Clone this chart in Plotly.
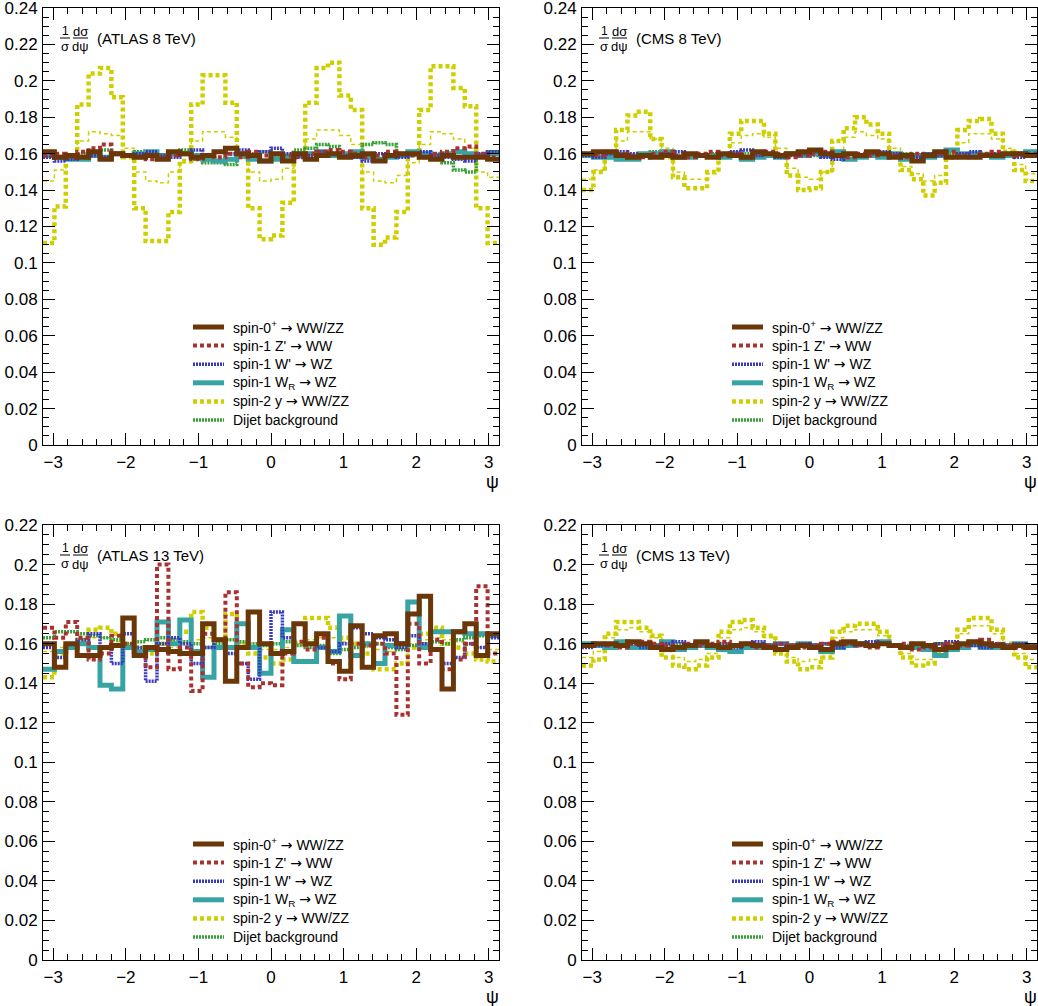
import numpy as np
import plotly.graph_objects as go

W, H = 1038, 1006
NB = 40
edges = np.linspace(-np.pi, np.pi, NB + 1)

ARROW = "<span style='font-family:DejaVu Sans'>\u2192</span>"
labels = ["spin-0<sup>+</sup> " + ARROW + " WW/ZZ", "spin-1 Z' " + ARROW + " WW", "spin-1 W' " + ARROW + " WZ",
          "spin-1 W<sub>R</sub> " + ARROW + " WZ", "spin-2 y " + ARROW + " WW/ZZ", "Dijet background"]
panel_titles = ["(ATLAS 8 TeV)", "(CMS 8 TeV)", "(ATLAS 13 TeV)", "(CMS 13 TeV)"]

# ---------------- ATLAS 8 TeV ----------------
a8_spin0 = [0.161,0.158,0.159,0.158,0.161,0.157,0.160,0.159,0.158,0.159,0.157,0.161,0.160,0.158,0.159,0.161,0.163,0.160,0.159,0.156,
            0.160,0.156,0.160,0.157,0.159,0.160,0.158,0.159,0.160,0.156,0.159,0.160,0.160,0.158,0.157,0.159,0.158,0.158,0.158,0.157]
a8_zp = [0.159,0.160,0.158,0.161,0.163,0.165,0.160,0.159,0.158,0.157,0.158,0.159,0.160,0.157,0.159,0.158,0.160,0.158,0.161,0.159,
         0.160,0.159,0.158,0.160,0.161,0.162,0.161,0.160,0.158,0.159,0.161,0.160,0.159,0.158,0.160,0.161,0.163,0.164,0.160,0.158]
a8_wp = [0.158,0.156,0.157,0.158,0.159,0.158,0.160,0.159,0.160,0.161,0.159,0.158,0.160,0.162,0.159,0.161,0.160,0.162,0.159,0.161,
         0.163,0.160,0.158,0.159,0.161,0.160,0.159,0.158,0.156,0.160,0.159,0.158,0.160,0.161,0.159,0.158,0.157,0.156,0.160,0.161]
a8_wr = [0.159,0.158,0.157,0.157,0.159,0.158,0.160,0.159,0.160,0.161,0.159,0.160,0.160,0.159,0.157,0.156,0.157,0.159,0.157,0.156,
         0.157,0.158,0.159,0.160,0.161,0.159,0.160,0.161,0.158,0.157,0.158,0.159,0.161,0.160,0.159,0.160,0.161,0.160,0.159,0.160]
a8_spin2 = [0.111,0.131,0.158,0.187,0.204,0.207,0.191,0.158,0.130,0.112,0.112,0.128,0.156,0.187,0.203,0.203,0.188,0.160,0.130,0.113,
            0.115,0.133,0.160,0.188,0.207,0.210,0.192,0.184,0.130,0.110,0.114,0.128,0.160,0.184,0.208,0.208,0.196,0.186,0.130,0.111]
a8_spin2b = [0.145,0.151,0.160,0.167,0.172,0.171,0.170,0.163,0.150,0.145,0.144,0.150,0.155,0.167,0.172,0.172,0.169,0.160,0.150,0.145,
             0.146,0.152,0.160,0.168,0.173,0.173,0.170,0.165,0.150,0.145,0.144,0.148,0.155,0.165,0.172,0.171,0.168,0.163,0.150,0.147]
a8_dijet = [0.160,0.158,0.159,0.160,0.161,0.162,0.160,0.159,0.161,0.160,0.158,0.161,0.162,0.157,0.155,0.155,0.154,0.158,0.160,0.161,
            0.158,0.159,0.162,0.163,0.165,0.164,0.160,0.158,0.165,0.166,0.165,0.160,0.159,0.158,0.160,0.155,0.151,0.150,0.158,0.161]

# ---------------- CMS 8 TeV ----------------
c8_spin0 = [0.160,0.161,0.161,0.159,0.158,0.159,0.158,0.159,0.158,0.160,0.159,0.158,0.160,0.159,0.158,0.161,0.160,0.159,0.160,0.161,
            0.162,0.160,0.159,0.160,0.159,0.161,0.160,0.158,0.159,0.156,0.159,0.161,0.158,0.158,0.158,0.159,0.159,0.160,0.160,0.159]
c8_zp = [0.160,0.159,0.161,0.160,0.159,0.158,0.160,0.161,0.159,0.158,0.160,0.161,0.159,0.160,0.158,0.160,0.161,0.160,0.158,0.159,
         0.160,0.161,0.159,0.158,0.160,0.159,0.160,0.159,0.158,0.160,0.159,0.160,0.161,0.159,0.158,0.160,0.161,0.160,0.159,0.160]
c8_wp = [0.159,0.158,0.160,0.161,0.160,0.159,0.158,0.160,0.161,0.160,0.159,0.158,0.160,0.161,0.162,0.159,0.160,0.158,0.159,0.160,
         0.161,0.158,0.157,0.160,0.159,0.160,0.161,0.160,0.159,0.158,0.160,0.159,0.158,0.160,0.161,0.159,0.160,0.160,0.158,0.159]
c8_wr = [0.159,0.158,0.158,0.157,0.157,0.160,0.160,0.161,0.158,0.158,0.159,0.159,0.158,0.160,0.157,0.158,0.159,0.158,0.160,0.159,
         0.160,0.159,0.161,0.157,0.158,0.159,0.158,0.160,0.157,0.159,0.158,0.159,0.162,0.160,0.160,0.159,0.158,0.159,0.160,0.161]
c8_spin2 = [0.140,0.150,0.160,0.173,0.181,0.183,0.168,0.158,0.147,0.141,0.141,0.150,0.159,0.171,0.178,0.178,0.171,0.158,0.148,0.140,
            0.141,0.150,0.167,0.174,0.180,0.176,0.171,0.160,0.151,0.146,0.137,0.144,0.160,0.173,0.178,0.179,0.171,0.161,0.151,0.145]
c8_spin2b = [0.146,0.151,0.159,0.167,0.172,0.172,0.168,0.163,0.150,0.146,0.146,0.149,0.158,0.166,0.170,0.171,0.169,0.163,0.152,0.147,
             0.146,0.150,0.160,0.169,0.172,0.170,0.168,0.163,0.153,0.149,0.145,0.148,0.157,0.166,0.171,0.171,0.168,0.163,0.154,0.149]
c8_dijet = [0.159,0.160,0.159,0.160,0.159,0.160,0.161,0.160,0.159,0.160,0.159,0.160,0.160,0.159,0.160,0.159,0.160,0.159,0.160,0.160,
            0.159,0.160,0.159,0.160,0.159,0.160,0.160,0.159,0.160,0.159,0.160,0.159,0.160,0.160,0.159,0.160,0.160,0.159,0.160,0.159]

# ---------------- ATLAS 13 TeV ----------------
a13_spin0 = [0.160,0.148,0.160,0.154,0.154,0.158,0.159,0.173,0.154,0.158,0.157,0.156,0.155,0.155,0.170,0.162,0.141,0.158,0.176,0.160,
             0.155,0.156,0.170,0.160,0.165,0.151,0.146,0.169,0.148,0.164,0.165,0.160,0.175,0.184,0.157,0.137,0.166,0.170,0.154,0.165]
a13_zp = [0.168,0.163,0.171,0.163,0.152,0.155,0.164,0.160,0.154,0.148,0.200,0.147,0.158,0.136,0.165,0.162,0.186,0.150,0.138,0.140,
          0.139,0.155,0.161,0.157,0.163,0.150,0.142,0.160,0.159,0.160,0.155,0.124,0.170,0.150,0.162,0.147,0.152,0.160,0.189,0.155]
a13_wp = [0.158,0.153,0.160,0.162,0.165,0.158,0.150,0.165,0.158,0.141,0.160,0.163,0.160,0.150,0.158,0.162,0.155,0.150,0.142,0.160,
          0.176,0.163,0.170,0.160,0.158,0.156,0.160,0.168,0.165,0.163,0.162,0.158,0.164,0.160,0.157,0.150,0.153,0.160,0.158,0.163]
a13_wr = [0.147,0.156,0.158,0.160,0.158,0.139,0.137,0.158,0.156,0.157,0.171,0.160,0.172,0.156,0.143,0.158,0.158,0.170,0.158,0.145,
          0.155,0.167,0.151,0.151,0.158,0.156,0.174,0.154,0.160,0.150,0.159,0.160,0.181,0.158,0.166,0.166,0.166,0.165,0.165,0.164]
a13_spin2 = [0.143,0.155,0.158,0.162,0.167,0.168,0.165,0.160,0.158,0.155,0.160,0.162,0.166,0.176,0.168,0.162,0.175,0.160,0.155,0.153,
             0.150,0.152,0.160,0.173,0.173,0.168,0.163,0.160,0.155,0.147,0.147,0.150,0.158,0.165,0.168,0.160,0.158,0.155,0.152,0.151]
a13_spin2b = [0.156,0.158,0.160,0.162,0.163,0.163,0.161,0.160,0.158,0.157,0.157,0.158,0.160,0.162,0.163,0.163,0.162,0.160,0.158,0.157,
              0.157,0.158,0.160,0.162,0.163,0.163,0.161,0.160,0.158,0.157,0.156,0.158,0.160,0.162,0.163,0.162,0.161,0.159,0.158,0.157]
a13_dijet = [0.163,0.166,0.166,0.165,0.164,0.163,0.162,0.160,0.161,0.162,0.163,0.162,0.161,0.160,0.158,0.160,0.162,0.161,0.160,0.159,
             0.160,0.161,0.159,0.158,0.159,0.155,0.157,0.158,0.159,0.160,0.158,0.157,0.159,0.160,0.161,0.160,0.162,0.163,0.164,0.165]

# ---------------- CMS 13 TeV ----------------
c13_spin0 = [0.159,0.160,0.160,0.159,0.161,0.160,0.158,0.157,0.158,0.159,0.161,0.159,0.158,0.159,0.160,0.159,0.158,0.157,0.158,0.159,
             0.158,0.157,0.160,0.161,0.160,0.159,0.160,0.159,0.158,0.160,0.159,0.157,0.158,0.160,0.161,0.160,0.159,0.158,0.159,0.158]
c13_zp = [0.159,0.160,0.159,0.158,0.160,0.161,0.160,0.159,0.158,0.160,0.159,0.160,0.161,0.159,0.160,0.158,0.159,0.160,0.159,0.158,
          0.159,0.160,0.161,0.160,0.159,0.158,0.160,0.159,0.160,0.157,0.158,0.159,0.160,0.159,0.161,0.162,0.160,0.159,0.158,0.159]
c13_wp = [0.158,0.159,0.160,0.159,0.160,0.158,0.159,0.160,0.161,0.159,0.160,0.159,0.160,0.158,0.160,0.161,0.159,0.160,0.159,0.160,
          0.159,0.160,0.158,0.160,0.159,0.161,0.160,0.159,0.158,0.160,0.159,0.160,0.161,0.160,0.159,0.158,0.160,0.159,0.160,0.159]
c13_wr = [0.160,0.159,0.158,0.161,0.158,0.158,0.159,0.161,0.157,0.158,0.159,0.158,0.157,0.156,0.158,0.158,0.159,0.160,0.159,0.160,
          0.159,0.156,0.158,0.159,0.160,0.159,0.161,0.159,0.158,0.158,0.157,0.154,0.157,0.158,0.160,0.158,0.158,0.159,0.160,0.159]
c13_spin2 = [0.149,0.152,0.165,0.171,0.171,0.168,0.164,0.153,0.149,0.147,0.149,0.153,0.166,0.171,0.172,0.168,0.164,0.155,0.151,0.147,
             0.148,0.153,0.166,0.169,0.170,0.170,0.166,0.159,0.153,0.149,0.150,0.155,0.160,0.167,0.173,0.173,0.167,0.160,0.153,0.148]
c13_spin2b = [0.153,0.156,0.163,0.167,0.168,0.166,0.163,0.156,0.153,0.151,0.152,0.155,0.163,0.167,0.168,0.166,0.163,0.157,0.153,0.151,
              0.152,0.155,0.163,0.166,0.167,0.167,0.164,0.159,0.155,0.152,0.152,0.155,0.160,0.165,0.169,0.169,0.165,0.160,0.155,0.152]
c13_dijet = [0.159,0.160,0.159,0.160,0.159,0.160,0.159,0.159,0.160,0.159,0.160,0.159,0.160,0.159,0.160,0.159,0.159,0.160,0.159,0.160,
             0.159,0.160,0.159,0.159,0.160,0.159,0.160,0.159,0.159,0.160,0.159,0.160,0.159,0.160,0.159,0.159,0.160,0.159,0.160,0.159]

panels = [
    dict(spin0=a8_spin0, zp=a8_zp, wp=a8_wp, wr=a8_wr, spin2=a8_spin2, spin2b=a8_spin2b, dijet=a8_dijet),
    dict(spin0=c8_spin0, zp=c8_zp, wp=c8_wp, wr=c8_wr, spin2=c8_spin2, spin2b=c8_spin2b, dijet=c8_dijet),
    dict(spin0=a13_spin0, zp=a13_zp, wp=a13_wp, wr=a13_wr, spin2=a13_spin2, spin2b=a13_spin2b, dijet=a13_dijet),
    dict(spin0=c13_spin0, zp=c13_zp, wp=c13_wp, wr=c13_wr, spin2=c13_spin2, spin2b=c13_spin2b, dijet=c13_dijet),
]
yranges = [0.24, 0.24, 0.22, 0.22]

BROWN = "#6b3608"
RED = "#a83232"
BLUE = "#3a3ac0"
CYAN = "#37a3a3"
YELLOW = "#cfcf00"
GREEN = "#38a038"

# pixel geometry of the four plot frames (x0, x1, ytop, ybottom)
frames = [(43, 499, 8, 445), (582, 1037, 8, 445), (43, 499, 525, 960), (582, 1037, 525, 960)]

def px(x):
    return x / W

def py(y):
    return 1 - y / H

fig = go.Figure()
FONT = "Liberation Sans, Arial, Helvetica, sans-serif"

styles = {
    "spin2b": dict(color=YELLOW, width=1.5, dash="4px,3px"),
    "dijet": dict(color=GREEN, width=3.5, dash="2px,1px"),
    "spin2": dict(color=YELLOW, width=4.5, dash="4px,3px"),
    "wr": dict(color=CYAN, width=5, dash="solid"),
    "wp": dict(color=BLUE, width=3.5, dash="2px,1px"),
    "zp": dict(color=RED, width=4, dash="4px,3px"),
    "spin0": dict(color=BROWN, width=5, dash="solid"),
}
legend_keys = ["spin0", "zp", "wp", "wr", "spin2", "dijet"]
legend_names = dict(zip(legend_keys, labels))
draw_order = ["spin2b", "spin2", "dijet", "wr", "wp", "zp", "spin0"]

for i, p in enumerate(panels):
    sfx = "" if i == 0 else str(i + 1)
    for key in draw_order:
        vals = list(p[key])
        fig.add_trace(go.Scatter(
            x=edges, y=vals + [vals[-1]], mode="lines", line_shape="hv",
            line=styles[key], name=legend_names.get(key, "spin-2 y (alt.)"),
            showlegend=False, xaxis="x" + sfx, yaxis="y" + sfx, hoverinfo="skip"))

layout = dict(width=W, height=H, margin=dict(l=0, r=0, t=0, b=0, autoexpand=False),
              paper_bgcolor="white", plot_bgcolor="white", showlegend=False,
              font=dict(family=FONT, color="black", size=17))

annotations = []
shapes = []
for i, (x0, x1, yt, yb) in enumerate(frames):
    sfx = "" if i == 0 else str(i + 1)
    ax_common = dict(showline=True, linecolor="black", linewidth=1, mirror="allticks",
                     ticks="inside", tickcolor="black", showgrid=False, zeroline=False,
                     automargin=False, ticklabeloverflow="allow",
                     tickfont=dict(family=FONT, size=17, color="black"))
    layout["xaxis" + sfx] = dict(ax_common, domain=[px(x0), px(x1)], range=[-np.pi, np.pi],
                                 anchor="y" + sfx, tick0=0, dtick=1, ticklen=12, ticklabelstandoff=2,
                                 minor=dict(dtick=0.2, tick0=0, ticks="inside", ticklen=6, tickcolor="black"))
    layout["yaxis" + sfx] = dict(ax_common, domain=[py(yb), py(yt)], range=[0, yranges[i]],
                                 anchor="x" + sfx, tick0=0, dtick=0.02, ticklen=12, ticklabelstandoff=1,
                                 minor=dict(dtick=0.005, tick0=0, ticks="inside", ticklen=6, tickcolor="black"))
    # axis title psi
    annotations.append(dict(text="\u03c8", x=px(x1 - 7), y=py(yb + 37), xref="paper", yref="paper",
                            showarrow=False, font=dict(size=18, family=FONT), xanchor="center", yanchor="middle"))
    # 1/sigma dsigma/dpsi label
    num_y = yt + 23
    den_y = yt + 38
    bar_y = yt + 30
    annotations += [
        dict(text="1", x=px(x0 + 22), y=py(num_y), xref="paper", yref="paper", showarrow=False,
             font=dict(size=12, family=FONT), xanchor="center", yanchor="middle"),
        dict(text="\u03c3", x=px(x0 + 22), y=py(den_y), xref="paper", yref="paper", showarrow=False,
             font=dict(size=13, family=FONT), xanchor="center", yanchor="middle"),
        dict(text="d\u03c3", x=px(x0 + 37.5), y=py(num_y), xref="paper", yref="paper", showarrow=False,
             font=dict(size=13, family=FONT), xanchor="center", yanchor="middle"),
        dict(text="d\u03c8", x=px(x0 + 37.5), y=py(den_y + 1), xref="paper", yref="paper", showarrow=False,
             font=dict(size=13, family=FONT), xanchor="center", yanchor="middle"),
        dict(text=panel_titles[i], x=px(x0 + 52), y=py(bar_y), xref="paper", yref="paper", showarrow=False,
             font=dict(size=15, family=FONT), xanchor="left", yanchor="middle"),
    ]
    shapes += [
        dict(type="line", xref="paper", yref="paper", x0=px(x0 + 17), x1=px(x0 + 27),
             y0=py(bar_y), y1=py(bar_y), line=dict(color="black", width=1)),
        dict(type="line", xref="paper", yref="paper", x0=px(x0 + 30), x1=px(x0 + 45),
             y0=py(bar_y), y1=py(bar_y), line=dict(color="black", width=1)),
    ]
    # legend drawn as line samples and text
    lx0 = x0 + 150
    for k, key in enumerate(legend_keys):
        yk = yt + 319 + 18.6 * k
        st = styles[key]
        shapes.append(dict(type="line", xref="paper", yref="paper", x0=px(lx0), x1=px(lx0 + 31),
                           y0=py(yk), y1=py(yk),
                           line=dict(color=st["color"], width=st["width"], dash=st["dash"])))
        annotations.append(dict(text=legend_names[key], x=px(lx0 + 38), y=py(yk), xref="paper", yref="paper",
                                showarrow=False, xanchor="left", yanchor="middle",
                                font=dict(size=14, family=FONT, color="black")))

layout["annotations"] = annotations
layout["shapes"] = shapes
fig.update_layout(**layout)
fig.write_html("out.html")
